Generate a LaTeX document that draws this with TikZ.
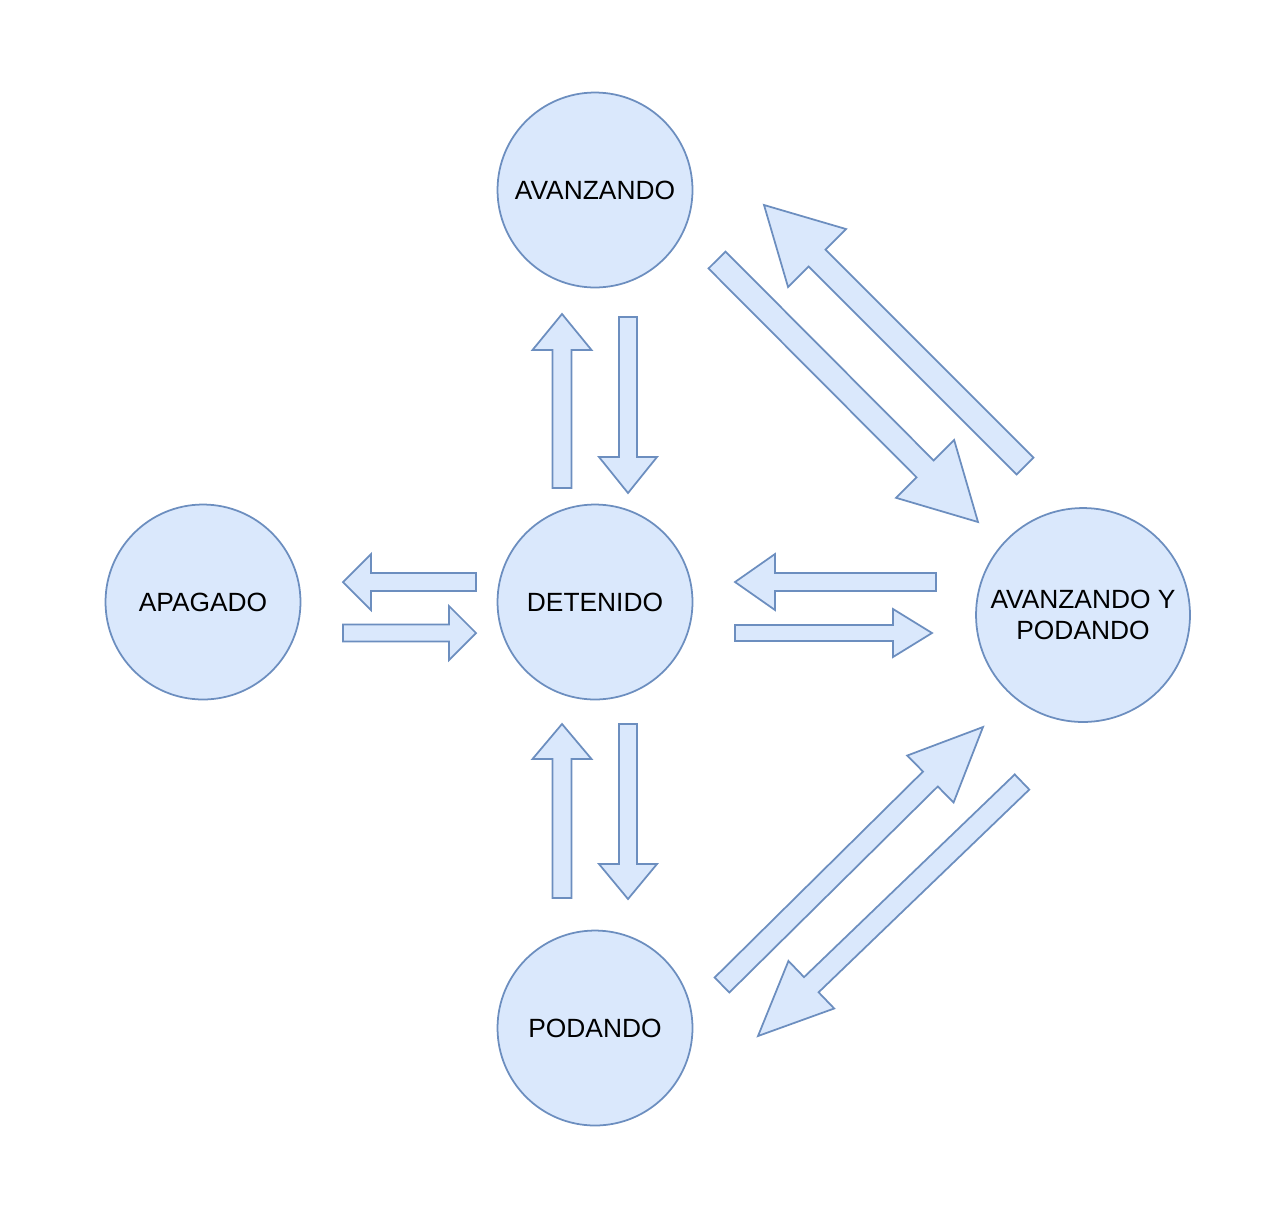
\documentclass[tikz,border=0pt]{standalone}
\usepackage{fontspec}
\setmainfont{Liberation Sans}
\usetikzlibrary{calc}
\definecolor{statefill}{HTML}{DAE8FC}
\definecolor{stateline}{HTML}{6C8EBF}
\tikzset{
  statecircle/.style={circle, draw=stateline, fill=statefill, line width=1pt, minimum size=3.9cm, inner sep=0pt, align=center, font=\fontsize{15}{18}\selectfont},
  arrowbox/.style={draw=stateline, fill=statefill, line width=1pt, line join=miter}
}
% tail, tip, shaft half width, head half width, head length
\newcommand{\blockarrow}[5]{%
  \coordinate (hb) at ($(#2)!#5!(#1)$);
  \draw[arrowbox] ($(#1)!#3!90:(#2)$) -- ($(hb)!#3!90:(#2)$) -- ($(hb)!#4!90:(#2)$) -- (#2)
    -- ($(hb)!#4!-90:(#2)$) -- ($(hb)!#3!-90:(#2)$) -- ($(#1)!#3!-90:(#2)$) -- cycle;
}
\begin{document}
\begin{tikzpicture}[x=0.02cm, y=-0.02cm]
\useasboundingbox (0,0) rectangle (1280,1204);
\node[statecircle] (av) at (595,190) {AVANZANDO};
\node[statecircle] (det) at (595,602) {DETENIDO};
\node[statecircle] (apag) at (203,602) {APAGADO};
\node[statecircle] (pod) at (595,1028) {PODANDO};
\node[statecircle, minimum size=4.28cm] (avpod) at (1083,615) {AVANZANDO Y\\PODANDO};
\coordinate (ar1t) at (476,582);
\coordinate (ar1h) at (343,582);
\coordinate (ar2t) at (343,633);
\coordinate (ar2h) at (476,633);
\coordinate (ar3t) at (562,488);
\coordinate (ar3h) at (562,314);
\coordinate (ar4t) at (628,317);
\coordinate (ar4h) at (628,493);
\coordinate (ar5t) at (936,582);
\coordinate (ar5h) at (735,582);
\coordinate (ar6t) at (735,633);
\coordinate (ar6h) at (932,633);
\coordinate (ar7t) at (628,724);
\coordinate (ar7h) at (628,899);
\coordinate (ar8t) at (562,898);
\coordinate (ar8h) at (562,724);
\coordinate (ar9t) at (717,260);
\coordinate (ar9h) at (978,522);
\coordinate (ar10t) at (1025,466);
\coordinate (ar10h) at (764,205);
\coordinate (ar11t) at (722,985);
\coordinate (ar11h) at (983,727);
\coordinate (ar12t) at (1022,782);
\coordinate (ar12h) at (758,1036);
\blockarrow{ar1t}{ar1h}{0.18cm}{0.56cm}{0.56cm}
\blockarrow{ar2t}{ar2h}{0.17cm}{0.54cm}{0.54cm}
\blockarrow{ar3t}{ar3h}{0.19cm}{0.59cm}{0.72cm}
\blockarrow{ar4t}{ar4h}{0.18cm}{0.58cm}{0.72cm}
\blockarrow{ar5t}{ar5h}{0.18cm}{0.56cm}{0.80cm}
\blockarrow{ar6t}{ar6h}{0.16cm}{0.48cm}{0.78cm}
\blockarrow{ar7t}{ar7h}{0.18cm}{0.58cm}{0.70cm}
\blockarrow{ar8t}{ar8h}{0.19cm}{0.59cm}{0.70cm}
\blockarrow{ar9t}{ar9h}{0.24cm}{0.82cm}{1.50cm}
\blockarrow{ar10t}{ar10h}{0.24cm}{0.82cm}{1.50cm}
\blockarrow{ar11t}{ar11h}{0.21cm}{0.66cm}{1.48cm}
\blockarrow{ar12t}{ar12h}{0.21cm}{0.66cm}{1.48cm}
\end{tikzpicture}
\end{document}
